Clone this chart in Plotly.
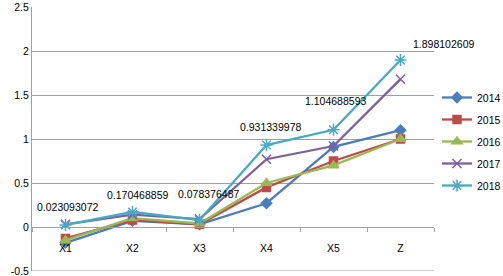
import plotly.graph_objects as go

categories = ["X1", "X2", "X3", "X4", "X5", "Z"]
years = ["2014", "2015", "2016", "2017", "2018"]
v2014 = [-0.18, 0.07, 0.03, 0.27, 0.91, 1.10]
v2015 = [-0.13, 0.08, 0.03, 0.45, 0.75, 1.00]
v2016 = [-0.15, 0.10, 0.04, 0.50, 0.70, 1.00]
v2017 = [0.03, 0.14, 0.09, 0.77, 0.92, 1.68]
v2018 = [0.023093072, 0.170468859, 0.078376487, 0.931339978, 1.104688593, 1.898102609]
label_text = ["0.023093072", "0.170468859", "0.078376487", "0.931339978", "1.104688593", "1.898102609"]
ytick_vals = [-0.5, 0, 0.5, 1, 1.5, 2, 2.5]
ytick_text = ["-0.5", "0", "0.5", "1", "1.5", "2", "2.5"]

series = [v2014, v2015, v2016, v2017, v2018]
colors = ["#4A7EBB", "#BE4B48", "#98B954", "#7D60A0", "#46AAC5"]
symbols = ["diamond", "square", "triangle-up", "x-thin-open", "asterisk-open"]
msizes = [8, 8, 9, 9, 10]

font = dict(family="Liberation Sans, Arial, sans-serif", size=10.5, color="#000000")
legend_font = dict(family="Liberation Sans, Arial, sans-serif", size=10.5, color="#000000")

fig = go.Figure()
for i, (name, vals) in enumerate(zip(years, series)):
    fig.add_trace(go.Scatter(
        x=categories, y=vals, name=name, mode="lines+markers",
        line=dict(color=colors[i], width=2.3),
        marker=dict(symbol=symbols[i], size=msizes[i], color=colors[i],
                    line=dict(color=colors[i], width=1.5)),
        legendgroup=name,
    ))

xshifts = [2, 5, 9, 4, 2, 43]
yshifts = [18, 17, 26, 18, 29, 16]
for i, c in enumerate(categories):
    fig.add_annotation(x=c, y=v2018[i], text=label_text[i], showarrow=False,
                       xshift=xshifts[i], yshift=yshifts[i], font=font)

# bottom gridline at the lower end of the value range
fig.add_shape(type="line", xref="paper", yref="y", x0=0, x1=1,
              y0=ytick_vals[0], y1=ytick_vals[0],
              line=dict(color="#A0A0A0", width=1), layer="below")

zero_pos = (0 - (-0.5)) / (2.5 - (-0.5))
fig.update_layout(
    width=503, height=276,
    margin=dict(l=32, r=69, t=7, b=5, autoexpand=False),
    paper_bgcolor="white", plot_bgcolor="white",
    font=font,
    showlegend=True,
    legend=dict(x=437 / 503, y=1 - 83 / 276, xref="container", yref="container",
                xanchor="left", yanchor="top",
                font=legend_font, tracegroupgap=3, traceorder="grouped",
                itemwidth=30, bgcolor="rgba(0,0,0,0)"),
    xaxis=dict(type="category", anchor="free", position=zero_pos,
               showline=True, linecolor="#A0A0A0", linewidth=1,
               ticks="outside", tickson="boundaries", ticklen=4,
               tickcolor="#A0A0A0", showgrid=False, zeroline=False,
               range=[-0.5, 5.5], tickfont=font, automargin=False,
               ticklabelstandoff=11),
    yaxis=dict(range=[-0.5, 2.5], tickvals=ytick_vals, ticktext=ytick_text,
               showgrid=True, gridcolor="#A0A0A0", gridwidth=1,
               showline=True, linecolor="#A0A0A0", zeroline=False,
               ticks="", tickfont=font, automargin=False,
               ticklabeloverflow="allow"),
)
fig.write_html("out.html", config={"displayModeBar": False},
               post_script="document.body.style.margin='0';")
